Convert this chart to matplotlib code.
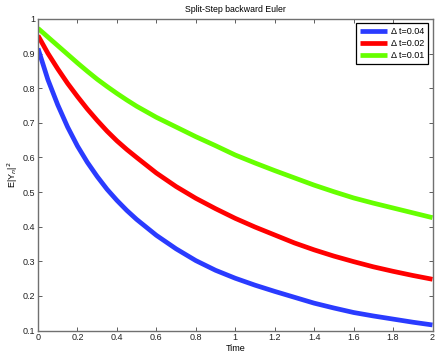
import numpy as np
import matplotlib
matplotlib.use("Agg")
import matplotlib.pyplot as plt

plt.rcParams['font.family'] = ['Liberation Sans', 'DejaVu Sans']

time = [0.0, 0.05, 0.1, 0.15, 0.2, 0.25, 0.3, 0.35, 0.4, 0.45, 0.5,
        0.6, 0.7, 0.8, 0.9, 1.0, 1.1, 1.2, 1.3, 1.4, 1.5, 1.6, 1.7, 1.8, 1.9, 2.0]
ms_dt004 = [0.915, 0.825, 0.752, 0.688, 0.633, 0.586, 0.545, 0.508, 0.476, 0.447, 0.421,
            0.375, 0.336, 0.302, 0.274, 0.251, 0.231, 0.213, 0.196, 0.179, 0.165,
            0.152, 0.142, 0.133, 0.124, 0.116]
ms_dt002 = [0.952, 0.901, 0.856, 0.814, 0.776, 0.740, 0.707, 0.676, 0.648, 0.623, 0.600,
            0.555, 0.516, 0.482, 0.452, 0.424, 0.399, 0.376, 0.353, 0.333, 0.315,
            0.299, 0.284, 0.271, 0.259, 0.248]
ms_dt001 = [0.973, 0.948, 0.923, 0.898, 0.873, 0.849, 0.826, 0.805, 0.785, 0.766, 0.748,
            0.716, 0.688, 0.660, 0.634, 0.607, 0.584, 0.562, 0.541, 0.520, 0.501,
            0.483, 0.468, 0.454, 0.440, 0.426]
labels = ['\u0394 t=0.04', '\u0394 t=0.02', '\u0394 t=0.01']
colors = ['#2a3bff', '#ff0000', '#66ff00']

fig = plt.figure(figsize=(4.39, 3.56), dpi=100)
ax = fig.add_axes([38/439, 1 - 330.5/356, (432.5-38)/439, (330.5-19)/356])

for y, lab, c in zip([ms_dt004, ms_dt002, ms_dt001], labels, colors):
    ax.plot(time, y, color=c, lw=3.4, label=lab, solid_capstyle='butt',
            solid_joinstyle='round')

ax.set_xlim(0, 2)
ax.set_ylim(0.1, 1)
ax.set_xticks(np.arange(0, 2.01, 0.2))
ax.set_xticklabels(['0', '0.2', '0.4', '0.6', '0.8', '1', '1.2', '1.4', '1.6', '1.8', '2'])
ax.set_yticks(np.arange(0.1, 1.01, 0.1))
ax.set_yticklabels(['0.1', '0.2', '0.3', '0.4', '0.5', '0.6', '0.7', '0.8', '0.9', '1'])
ax.tick_params(direction='in', length=3, width=0.6, labelsize=6.5, top=True, right=True,
               colors='#444444', labelcolor='#222222', pad=2)
for s in ax.spines.values():
    s.set_color('#707070')
    s.set_linewidth(1.0)

ax.set_title('Split-Step backward Euler', fontsize=6.3, pad=5)
ax.set_xlabel('Time', fontsize=6.5, labelpad=1)
ax.set_ylabel('E|Y$_n$|$^2$', fontsize=6.5, labelpad=2)

leg = ax.legend(loc='upper right', bbox_to_anchor=(0.989, 0.987), borderaxespad=0,
                fontsize=6.5, handlelength=3.0, handletextpad=0.5, labelspacing=0.35,
                borderpad=0.4, fancybox=False, framealpha=1)
leg.get_frame().set_edgecolor('black')
leg.get_frame().set_linewidth(0.9)

fig.savefig('out.png', dpi=100)
